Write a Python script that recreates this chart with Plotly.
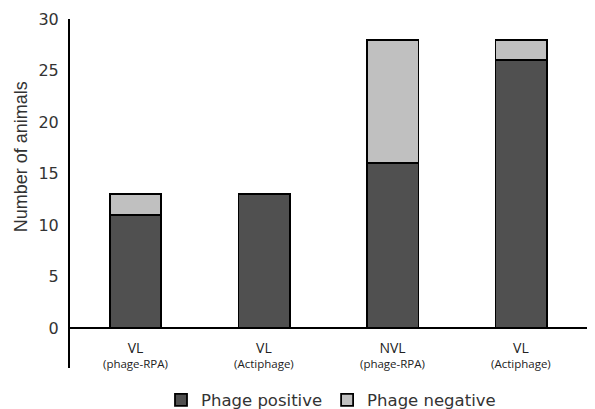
import plotly.graph_objects as go

groups = ["VL", "VL", "NVL", "VL"]
methods = ["(phage-RPA)", "(Actiphage)", "(phage-RPA)", "(Actiphage)"]
phage_positive = [11, 13, 16, 26]
phage_negative = [2, 0, 12, 2]
y_ticks = [0, 5, 10, 15, 20, 25, 30]

x = list(range(len(groups)))

fig = go.Figure()
fig.add_trace(go.Bar(x=x, y=phage_positive, name="Phage positive",
                     marker=dict(color="#505050", line=dict(color="black", width=1.8))))
fig.add_trace(go.Bar(x=x, y=phage_negative, name="Phage negative",
                     marker=dict(color="#c0c0c0", line=dict(color="black", width=1.8))))

for i, (g, m) in enumerate(zip(groups, methods)):
    fig.add_annotation(x=i, y=-2.6, xref="x", yref="y",
                       text=f"<span style='font-size:14px'>{g}</span><br>{m}",
                       showarrow=False,
                       font=dict(family="Open Sans", size=11.5, color="#222"),
                       yanchor="middle")

fig.add_annotation(x=-0.095, y=0.605, xref="paper", yref="paper", text="Number of animals",
                   textangle=-90, showarrow=False,
                   font=dict(family="Liberation Sans", size=18, color="#333"),
                   xanchor="center", yanchor="middle")

fig.update_layout(
    width=587, height=401,
    margin=dict(l=62, r=3, t=11, b=41, autoexpand=False),
    barmode="stack", bargap=0.6,
    plot_bgcolor="white", paper_bgcolor="white",
    showlegend=True,
    legend=dict(orientation="h", x=0.5, xanchor="center", y=-0.092, yanchor="middle",
                font=dict(family="DejaVu Sans", size=16.5, color="#333"),
                itemwidth=30, traceorder="normal"),
    xaxis=dict(range=[-0.51, 3.55], showticklabels=False, showgrid=False,
               zeroline=False, showline=False, ticks="", automargin=False),
    yaxis=dict(range=[-3.88, 30], tickvals=y_ticks, showgrid=False,
               zeroline=True, zerolinecolor="black", zerolinewidth=1.5,
               showline=True, linecolor="black", linewidth=2, ticks="",
               ticklabelstandoff=6, automargin=False,
               tickfont=dict(family="DejaVu Sans", size=16, color="#333")),
)

fig.write_html("out.html")
